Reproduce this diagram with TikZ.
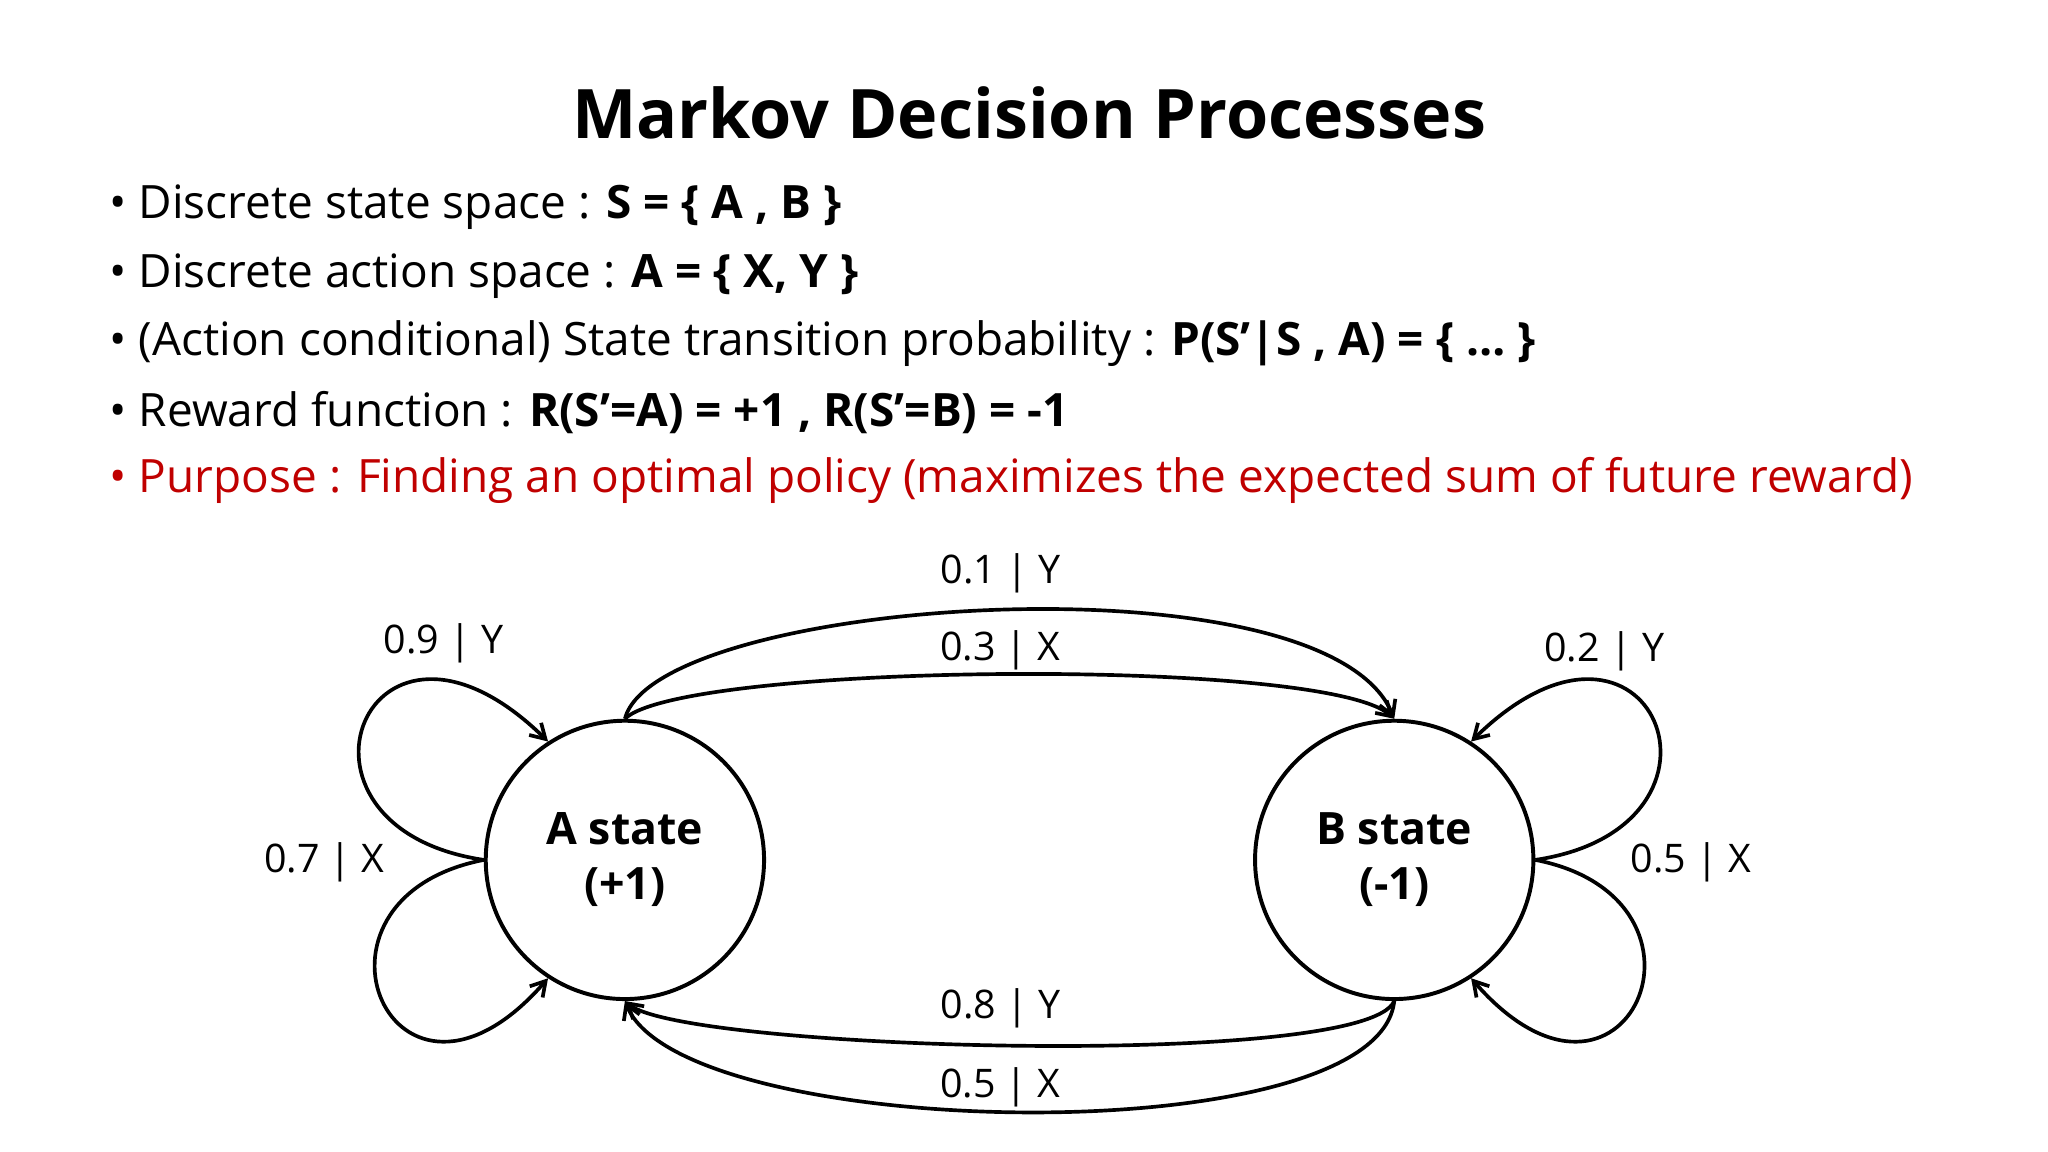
\documentclass[tikz,border=0pt]{standalone}
\usepackage{fontspec}
\usetikzlibrary{arrows.meta}
\setmainfont{Open Sans}
\begin{document}
\begin{tikzpicture}[x=1pt,y=-1pt,
  st/.style={circle,draw,line width=3pt,minimum size=212pt,inner sep=0pt,align=center,font=\fontsize{34}{42}\selectfont\bfseries},
  lbl/.style={font=\fontsize{30}{34}\selectfont},
  bul/.style={anchor=west,font=\fontsize{35}{40}\selectfont},
  ed/.style={line width=2.8pt,-{Straight Barb[length=11pt,width=13pt]}}]
\useasboundingbox (0,0) rectangle (1560,877);
\node[font=\fontsize{52}{60}\selectfont\bfseries] (title) at (784,86) {Markov Decision Processes};
\node[bul] (b1) at (80,158) {• Discrete state space : \textbf{S = \{ A , B \}}};
\node[bul] (b2) at (80,210) {• Discrete action space : \textbf{A = \{ X, Y \}}};
\node[bul] (b3) at (80,262) {• (Action conditional) State transition probability : \textbf{P(S’|S , A) = \{ … \}}};
\node[bul] (b4) at (80,314) {• Reward function : \textbf{R(S’=A) = +1 , R(S’=B) = -1}};
\node[bul,text={rgb,255:red,192;green,0;blue,0}] (b5) at (80,366) {• Purpose : Finding an optimal policy (maximizes the expected sum of future reward)};
\node[st] (A) at (476,655) {A state\\(+1)};
\node[st] (B) at (1062,655) {B state\\(-1)};
% top arcs
\draw[ed] (A.north) .. controls (500,455) and (1010,420) .. (B.north);
\draw[ed] (A.north) .. controls (520,505) and (1010,500) .. (B.north);
% bottom arcs
\draw[ed] (B.south) .. controls (1040,815) and (520,800) .. (A.south);
\draw[ed] (B.south) .. controls (1050,880) and (520,870) .. (A.south);
% A loops
\draw[ed] (A.west) .. controls (200,630) and (280,430) .. (A.123);
\draw[ed] (A.west) .. controls (215,685) and (300,880) .. (A.237);
% B loops
\draw[ed] (B.east) .. controls (1338,630) and (1258,430) .. (B.57);
\draw[ed] (B.east) .. controls (1323,685) and (1238,880) .. (B.303);
\node[lbl] (l1) at (762,437) {0.1 | Y};
\node[lbl] (l2) at (762,495) {0.3 | X};
\node[lbl] (l3) at (762,768) {0.8 | Y};
\node[lbl] (l4) at (762,828) {0.5 | X};
\node[lbl] (l5) at (338,490) {0.9 | Y};
\node[lbl] (l6) at (247,657) {0.7 | X};
\node[lbl] (l7) at (1222,496) {0.2 | Y};
\node[lbl] (l8) at (1288,657) {0.5 | X};
\end{tikzpicture}
\end{document}
